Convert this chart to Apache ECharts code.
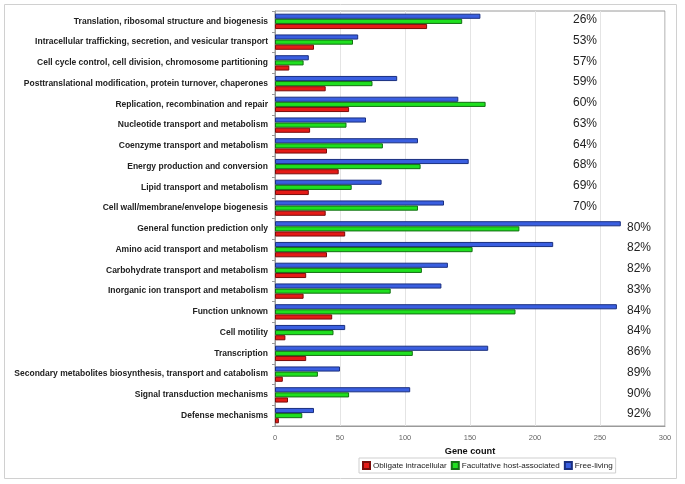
<!DOCTYPE html>
<html>
<head>
<meta charset="utf-8">
<script src="https://cdn.jsdelivr.net/npm/echarts@6/dist/echarts.min.js"></script>
<style>
html,body{margin:0;padding:0;background:#fff;}
#chart{width:685px;height:484px;}
</style>
</head>
<body>
<div id="chart"></div>
<script>
const categories = [
  "Translation, ribosomal structure and biogenesis",
  "Intracellular trafficking, secretion, and vesicular transport",
  "Cell cycle control, cell division, chromosome partitioning",
  "Posttranslational modification, protein turnover, chaperones",
  "Replication, recombination and repair",
  "Nucleotide transport and metabolism",
  "Coenzyme transport and metabolism",
  "Energy production and conversion",
  "Lipid transport and metabolism",
  "Cell wall/membrane/envelope biogenesis",
  "General function prediction only",
  "Amino acid transport and metabolism",
  "Carbohydrate transport and metabolism",
  "Inorganic ion transport and metabolism",
  "Function unknown",
  "Cell motility",
  "Transcription",
  "Secondary metabolites biosynthesis, transport and catabolism",
  "Signal transduction mechanisms",
  "Defense mechanisms"
];
const obligate    = [117, 30, 11, 39, 57, 27, 40, 49, 26, 39, 54, 40, 24, 22, 44, 8, 24, 6, 10, 3];
const facultative = [144, 60, 22, 75, 162, 55, 83, 112, 59, 110, 188, 152, 113, 89, 185, 45, 106, 33, 57, 21];
const freeLiving  = [158, 64, 26, 94, 141, 70, 110, 149, 82, 130, 266, 214, 133, 128, 263, 54, 164, 50, 104, 30];
const percents    = ["26%", "53%", "57%", "59%", "60%", "63%", "64%", "68%", "69%", "70%",
                     "80%", "82%", "82%", "83%", "84%", "84%", "86%", "89%", "90%", "92%"];
const xTicks = [0, 50, 100, 150, 200, 250, 300];

const chart = echarts.init(document.getElementById('chart'));
const FONT = '"Liberation Sans", Arial, Helvetica, sans-serif';

chart.setOption({
  animation: false,
  textStyle: { fontFamily: FONT },
  graphic: [{
    type: 'rect', shape: { x: 4.5, y: 4.5, width: 672, height: 474 },
    style: { fill: 'none', stroke: '#d0d0d0', lineWidth: 1 }, z: -1
  }],
  grid: { left: 275, right: 20, top: 11, bottom: 58, show: true, borderColor: '#9a9a9a', borderWidth: 1,
          backgroundColor: 'transparent', containLabel: false, outerBoundsMode: 'none' },
  legend: {
    data: ['Obligate intracellular', 'Facultative host-associated', 'Free-living'],
    left: 359, top: 458,
    itemWidth: 7, itemHeight: 7, itemGap: 4,
    icon: 'rect',
    borderColor: '#cfcfcf', borderWidth: 1, padding: [3, 3],
    textStyle: { fontSize: 8.1, color: '#222', fontFamily: FONT, padding: [0, 0, 0, -2] }
  },
  xAxis: {
    type: 'value', min: xTicks[0], max: xTicks[xTicks.length - 1], interval: 50,
    name: 'Gene count', nameLocation: 'middle', nameGap: 19,
    nameTextStyle: { fontWeight: 'bold', fontSize: 9.2, color: '#111', fontFamily: FONT },
    axisLine: { show: true, lineStyle: { color: '#9a9a9a' } },
    axisTick: { show: false },
    axisLabel: { fontSize: 7.5, color: '#666', margin: 8 },
    splitLine: { show: true, lineStyle: { color: '#e4e4e4' } }
  },
  yAxis: [{
    type: 'category', data: categories, inverse: true,
    axisLine: { show: true, lineStyle: { color: '#9a9a9a' } },
    axisTick: { show: true, length: 3, lineStyle: { color: '#9a9a9a' } },
    axisLabel: { fontSize: 8.5, fontWeight: 'bold', color: '#222', margin: 7, fontFamily: FONT }
  }, {
    type: 'category', data: categories, inverse: true, position: 'right',
    axisLine: { show: false }, axisTick: { show: false },
    axisLabel: {
      inside: true, margin: 0,
      formatter: function (v, i) { return i < 10 ? '{a|' + percents[i] + '}' : '{b|' + percents[i] + '}'; },
      rich: {
        a: { fontSize: 12, color: '#222', padding: [0, 68, 3, 0], fontFamily: FONT },
        b: { fontSize: 12, color: '#222', padding: [0, 14, 3, 0], fontFamily: FONT }
      }
    }
  }],
  series: [
    { name: 'Free-living', type: 'bar', data: freeLiving, barGap: '0%', barCategoryGap: '26%',
      itemStyle: { color: '#3a5fe0', borderColor: '#1a2f80', borderWidth: 1 } },
    { name: 'Facultative host-associated', type: 'bar', data: facultative,
      itemStyle: { color: '#1fe01f', borderColor: '#137013', borderWidth: 1 } },
    { name: 'Obligate intracellular', type: 'bar', data: obligate,
      itemStyle: { color: '#e41b17', borderColor: '#7a0c0a', borderWidth: 1 } }
  ]
});
</script>
</body>
</html>
